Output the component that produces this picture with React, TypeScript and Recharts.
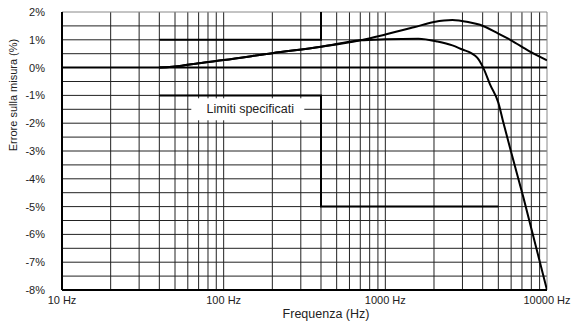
import React from 'react';
import {
    LineChart,
    Line,
    XAxis,
    YAxis,
    ReferenceLine,
    ReferenceDot,
} from 'recharts';

type Pt = { f: number; v: number };

// curve that keeps rising to ~1.7% then drops slowly
const curveRising: Pt[] = [
    { f: 40, v: 0 },
    { f: 55, v: 0.07 },
    { f: 70, v: 0.16 },
    { f: 100, v: 0.27 },
    { f: 200, v: 0.52 },
    { f: 400, v: 0.75 },
    { f: 700, v: 0.98 },
    { f: 1000, v: 1.19 },
    { f: 1500, v: 1.45 },
    { f: 2000, v: 1.64 },
    { f: 2600, v: 1.71 },
    { f: 3300, v: 1.63 },
    { f: 3850, v: 1.54 },
    { f: 5000, v: 1.22 },
    { f: 6000, v: 0.98 },
    { f: 7700, v: 0.6 },
    { f: 10000, v: 0.26 },
];

// curve that flattens at ~1% then falls off steeply
const curveFalling: Pt[] = [
    { f: 40, v: 0 },
    { f: 55, v: 0.07 },
    { f: 70, v: 0.16 },
    { f: 100, v: 0.27 },
    { f: 200, v: 0.52 },
    { f: 400, v: 0.75 },
    { f: 700, v: 0.98 },
    { f: 1000, v: 1.02 },
    { f: 1600, v: 1.04 },
    { f: 2100, v: 0.94 },
    { f: 2600, v: 0.8 },
    { f: 3000, v: 0.65 },
    { f: 3400, v: 0.52 },
    { f: 3700, v: 0.36 },
    { f: 4030, v: 0.0 },
    { f: 4440, v: -0.6 },
    { f: 5000, v: -1.26 },
    { f: 5330, v: -1.9 },
    { f: 6040, v: -3.1 },
    { f: 7130, v: -4.65 },
    { f: 10000, v: -8 },
];

const upperLimit: Pt[] = [
    { f: 40, v: 1 },
    { f: 400, v: 1 },
    { f: 400, v: 2 },
];

const lowerLimit: Pt[] = [
    { f: 40, v: -1 },
    { f: 400, v: -1 },
    { f: 400, v: -5 },
    { f: 5000, v: -5 },
];

const xTicks = [10, 100, 1000, 10000];
const yTicks = [2, 1, 0, -1, -2, -3, -4, -5, -6, -7, -8];

const gridFreqs = [
    20, 30, 40, 50, 60, 70, 80, 90,
    100, 200, 300, 400, 500, 600, 700, 800, 900,
    1000, 2000, 3000, 4000, 5000, 6000, 7000, 8000, 9000,
];
const gridValues = [
    1.5, 1, 0.5, -0.5, -1, -1.5, -2, -2.5, -3, -3.5, -4, -4.5, -5, -5.5, -6, -6.5, -7, -7.5,
];

const limitLabel = { f: 140, v: -1.5, text: 'Limiti specificati' };

const font = '"Liberation Sans", Arial, sans-serif';

export default function App() {
    return (
        <div style={{ position: 'absolute', left: 0, top: 0, background: '#fff' }}>
            <LineChart
                width={574}
                height={322}
                margin={{ top: 12, right: 27, left: 0, bottom: 0 }}
                style={{ fontFamily: font }}
            >
                <XAxis
                    type="number"
                    dataKey="f"
                    scale="log"
                    domain={[10, 10000]}
                    ticks={xTicks}
                    allowDataOverflow
                    height={32}
                    tickLine={false}
                    tickSize={0}
                    tickMargin={6}
                    axisLine={{ stroke: '#000', strokeWidth: 2 }}
                    tick={{ fontSize: 11, fill: '#222' }}
                    tickFormatter={(v: number) => `${v} Hz`}
                    label={{
                        content: () => (
                            <text x={326} y={314} textAnchor="middle" dominantBaseline="central" fontSize={12.5} fill="#222">
                                Frequenza (Hz)
                            </text>
                        ),
                    }}
                />
                <YAxis
                    type="number"
                    dataKey="v"
                    domain={[-8, 2]}
                    ticks={yTicks}
                    width={62}
                    tickLine={false}
                    tickSize={0}
                    tickMargin={17}
                    axisLine={{ stroke: '#000', strokeWidth: 2 }}
                    tick={{ fontSize: 11, fill: '#222' }}
                    tickFormatter={(v: number) => `${v}%`}
                    label={{
                        content: () => (
                            <text
                                x={12.5}
                                y={95}
                                transform="rotate(-90 12.5 95)"
                                textAnchor="middle"
                                dominantBaseline="central"
                                fontSize={11}
                                fill="#222"
                            >
                                Errore sulla misura (%)
                            </text>
                        ),
                    }}
                />
                {gridFreqs.map((f) => (
                    <ReferenceLine key={`gx${f}`} x={f} stroke="#222" strokeWidth={1} />
                ))}
                {gridValues.map((v) => (
                    <ReferenceLine key={`gy${v}`} y={v} stroke="#222" strokeWidth={1} />
                ))}
                <ReferenceLine x={10000} stroke="#888" strokeWidth={1} />
                <ReferenceLine y={2} stroke="#888" strokeWidth={1} />
                <ReferenceLine y={0} stroke="#000" strokeWidth={2} />
                <ReferenceDot
                    x={limitLabel.f}
                    y={limitLabel.v}
                    r={0}
                    shape={(p: any) => (
                        <g>
                            <rect x={p.cx - 56} y={p.cy - 11} width={113} height={22} fill="#fff" />
                            <text
                                x={p.cx + 3}
                                y={p.cy}
                                textAnchor="middle"
                                dominantBaseline="central"
                                fontSize={12.5}
                                fill="#222"
                                fontFamily={font}
                            >
                                {limitLabel.text}
                            </text>
                        </g>
                    )}
                />
                <Line data={upperLimit} dataKey="v" type="linear" stroke="#000" strokeWidth={2} dot={false} isAnimationActive={false} />
                <Line data={lowerLimit} dataKey="v" type="linear" stroke="#000" strokeWidth={2} dot={false} isAnimationActive={false} />
                <Line data={curveRising} dataKey="v" type="monotone" stroke="#000" strokeWidth={2} dot={false} isAnimationActive={false} />
                <Line data={curveFalling} dataKey="v" type="monotone" stroke="#000" strokeWidth={2} dot={false} isAnimationActive={false} />
            </LineChart>
        </div>
    );
}
